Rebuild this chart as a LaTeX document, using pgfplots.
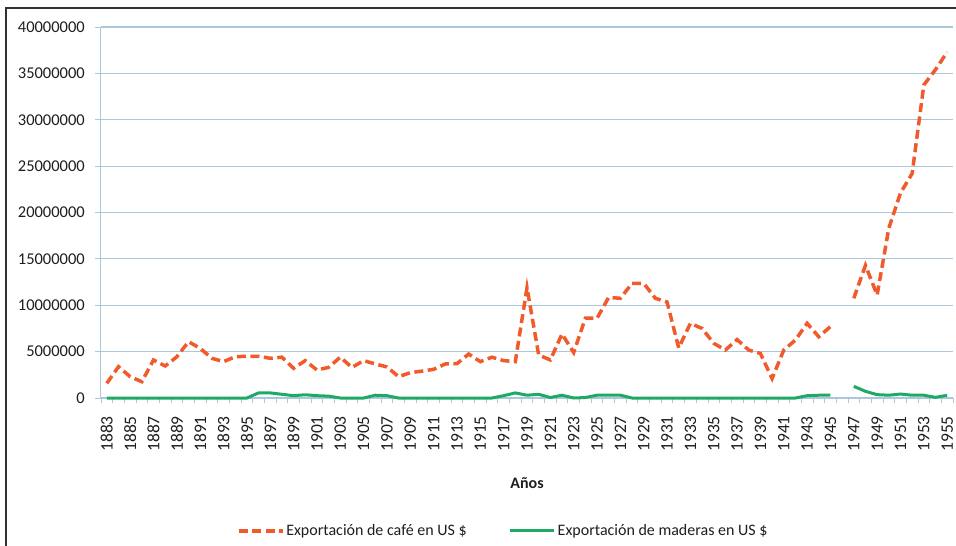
\documentclass[border=0pt]{standalone}
\usepackage{pgfplots}
\pgfplotsset{compat=1.18}
\usepackage{pgfplotstable}
\usepackage{fontspec}
\setmainfont{Carlito}
\definecolor{cafe}{RGB}{241,90,43}
\definecolor{madera}{RGB}{30,170,100}
\definecolor{gridc}{RGB}{170,200,220}
\definecolor{framec}{RGB}{50,50,50}
\definecolor{txt}{RGB}{30,30,30}

\pgfplotstableread{
year cafe madera
1883 1580000 0
1884 3380000 0
1885 2300000 0
1886 1760000 0
1887 4100000 0
1888 3450000 0
1889 4450000 0
1890 6070000 0
1891 5350000 0
1892 4280000 0
1893 3920000 0
1894 4450000 0
1895 4500000 0
1896 4500000 550000
1897 4280000 550000
1898 4400000 400000
1899 3200000 250000
1900 4030000 350000
1901 3020000 250000
1902 3300000 200000
1903 4400000 0
1904 3300000 0
1905 4030000 0
1906 3670000 300000
1907 3350000 250000
1908 2300000 0
1909 2730000 0
1910 2900000 0
1911 3090000 0
1912 3670000 0
1913 3700000 0
1914 4740000 0
1915 3920000 0
1916 4400000 0
1917 4030000 250000
1918 3920000 550000
1919 11900000 300000
1920 4640000 400000
1921 4100000 50000
1922 6900000 300000
1923 4900000 0
1924 8600000 50000
1925 8600000 300000
1926 10850000 300000
1927 10750000 300000
1928 12360000 0
1929 12360000 0
1930 10750000 0
1931 10350000 0
1932 5400000 0
1933 8050000 0
1934 7500000 0
1935 5900000 0
1936 5170000 0
1937 6300000 0
1938 5170000 0
1939 4800000 0
1940 2100000 0
1941 5170000 0
1942 6250000 0
1943 8050000 250000
1944 6600000 300000
1945 7700000 300000
1946 nan nan
1947 10750000 1260000
1948 14300000 720000
1949 11100000 360000
1950 18300000 300000
1951 22100000 430000
1952 24200000 300000
1953 33750000 300000
1954 35400000 70000
1955 37300000 290000
}\datatable

\begin{document}
\begin{tikzpicture}
\path[use as bounding box] (-101pt,-148pt) rectangle (855pt,398pt);
\draw[framec, line width=1.6pt] (-95pt,-150pt) -- (-95pt,390pt) -- (860pt,390pt);
\begin{axis}[
  scale only axis,
  width=852pt, height=371pt,
  xmin=1882.5, xmax=1955.5,
  ymin=0, ymax=40000000,
  axis x line*=bottom, axis y line*=left,
  axis line style={gridc, line width=1pt},
  xtick={1883,1885,...,1955},
  minor xtick={1882.5,1883.5,...,1955.5},
  major tick length=0pt,
  minor tick length=5pt,
  tick align=outside,
  minor tick style={gridc, line width=0.8pt},
  xticklabel={\pgfmathprintnumber[assume math mode=true,fixed,precision=0,1000 sep={}]{\tick}},
  xticklabel style={font=\fontsize{17.5}{17.5}\selectfont, text=txt, yshift=-18pt, rotate=90, anchor=east, inner sep=0pt},
  ytick={0,5000000,10000000,15000000,20000000,25000000,30000000,35000000,40000000},
  yticklabels={0,5000000,10000000,15000000,20000000,25000000,30000000,35000000,40000000},
  extra y ticks={0,5000000,10000000,15000000,20000000,25000000,30000000,35000000,40000000},
  extra y tick labels={},
  extra y tick style={major tick length=6pt, tick style={gridc, line width=0.8pt}, grid=none},
  yticklabel style={font=\fontsize{16.5}{16.5}\selectfont, text=txt, anchor=east, inner sep=0pt, xshift=-16pt},
  scaled y ticks=false,
  ymajorgrids,
  major grid style={gridc, line width=1.2pt},
  xlabel={\textbf{Años}},
  xlabel style={font=\fontsize{16}{16}\selectfont, text=txt, at={(axis description cs:0.5,-0.229)}, anchor=center},
  unbounded coords=jump,
  legend columns=2,
  legend style={at={(axis description cs:0.472,-0.358)}, anchor=center, draw=none, fill=none,
    font=\fontsize{16}{16}\selectfont, text=txt,
    /tikz/every even column/.append style={column sep=40pt}},
  legend image code/.code={\draw[#1] (0pt,0pt) -- (44pt,0pt);},
  clip=false,
]
\addplot[cafe, line width=3.5pt, dash pattern=on 9pt off 4.5pt] table[x=year, y=cafe] {\datatable};
\addlegendentry{Exportación de café en US \$}
\addplot[madera, line width=3pt] table[x=year, y=madera] {\datatable};
\addlegendentry{Exportación de maderas en US \$}
\end{axis}
\end{tikzpicture}
\end{document}
